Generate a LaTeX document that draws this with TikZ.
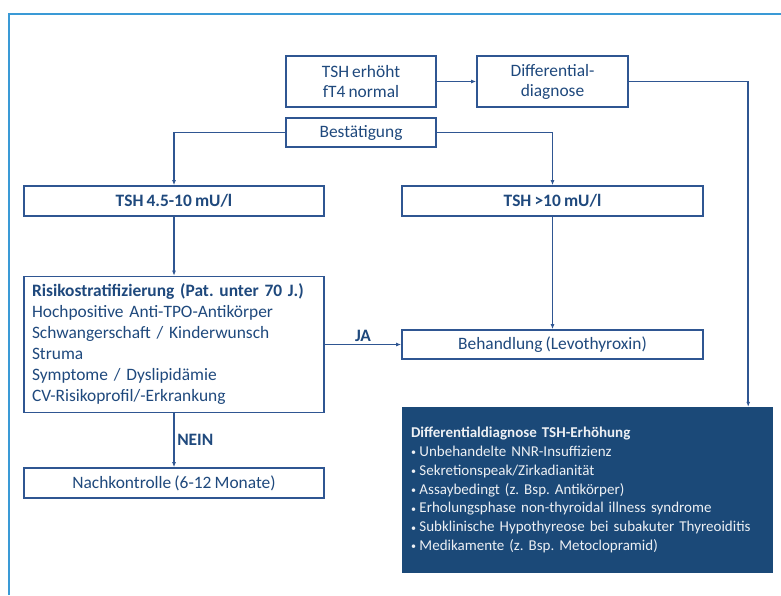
\documentclass[tikz,border=0pt]{standalone}
\usepackage{fontspec}
\setmainfont{Carlito}[WordSpace=0.8]
\usetikzlibrary{arrows.meta}
\frenchspacing

\definecolor{boxblue}{RGB}{47,86,146}
\definecolor{txtblue}{RGB}{31,73,125}
\definecolor{ddfill}{RGB}{27,73,120}
\definecolor{frameblue}{RGB}{58,154,214}

\newcommand{\ddbullet}{\raisebox{0.5pt}{\fontsize{10}{10}\selectfont\textbullet}\hspace{3.5pt}}

\tikzset{
	box/.style={fill=white, draw=boxblue, line width=1.7pt, shape=rectangle, text=txtblue, align=center, inner sep=0pt, font=\fontsize{17.4}{20}\selectfont},
	ddbox/.style={fill=ddfill, draw=none, shape=rectangle, text=white!92!ddfill, align=left, inner sep=0pt, font=\fontsize{15}{18.8}\selectfont},
	conn/.style={draw=boxblue, line width=1.5pt, -{Latex[length=5pt,width=4pt]}},
	lab/.style={text=txtblue, inner sep=2.5pt, font=\fontsize{17.4}{20}\selectfont\bfseries},
}

\begin{document}
\begin{tikzpicture}[x=1pt, y=-1pt]
	\useasboundingbox (0,0) rectangle (781,595);
	\draw [frameblue, line width=2pt] (9,595) -- (9,14) -- (781,14);

	\node [box, minimum width=150pt, minimum height=51pt] (tsh) at (361, 81.5) {TSH erhöht\\fT4 normal};
	\node [box, minimum width=151pt, minimum height=51pt] (diffdx) at (552.5, 81.5) {Differential-\\diagnose};
	\node [box, minimum width=150pt, minimum height=29pt] (confirm) at (361, 132.5) {Bestätigung};

	\node [box, minimum width=300pt, minimum height=30pt, font=\fontsize{17.4}{20}\selectfont\bfseries] (tshlow) at (174, 201) {TSH 4.5-10 mU/l};
	\node [box, minimum width=301pt, minimum height=30pt, font=\fontsize{17.4}{20}\selectfont\bfseries] (tshhigh) at (552.5, 201) {TSH >10 mU/l};

	\node [box, minimum width=300pt, minimum height=136pt, align=left, text width=284pt, font=\fontsize{17.4}{21}\selectfont] (risk) at (174, 344.5) {\textbf{Risikostratifizierung (Pat. unter 70 J.)}\\Hochpositive Anti-TPO-Antikörper\\Schwangerschaft / Kinderwunsch\\Struma\\Symptome / Dyslipidämie\\CV-Risikoprofil/-Erkrankung};
	\node [box, minimum width=301pt, minimum height=29pt] (therapy) at (552.5, 344.5) {Behandlung (Levothyroxin)};
	\node [box, minimum width=300pt, minimum height=30pt] (followup) at (174, 483) {Nachkontrolle (6-12 Monate)};

	\node [ddbox, minimum width=371pt, minimum height=166pt, text width=353pt] (ddlist) at (587.5, 490) {\textbf{Differentialdiagnose TSH-Erhöhung}\\
		\ddbullet Unbehandelte NNR-Insuffizienz\\
		\ddbullet Sekretionspeak/Zirkadianität\\
		\ddbullet Assaybedingt (z. Bsp. Antikörper)\\
		\ddbullet Erholungsphase non-thyroidal illness syndrome\\
		\ddbullet Subklinische Hypothyreose bei subakuter Thyreoiditis\\
		\ddbullet Medikamente (z. Bsp. Metoclopramid)};

	\draw [conn] (tsh) to (diffdx);
	\draw [conn] (diffdx.east) -| ([xshift=-25pt]ddlist.north east);
	\draw [conn] (confirm.west) -| (tshlow.north);
	\draw [conn] (confirm.east) -| (tshhigh.north);

	\draw [conn] (tshlow) to (risk);
	\draw [conn] (tshhigh) to (therapy);
	\draw [conn] (risk.east) to node [lab, above] {JA} (therapy.west);
	\draw [conn] (risk) to node [lab, right] {NEIN} (followup);
\end{tikzpicture}
\end{document}
